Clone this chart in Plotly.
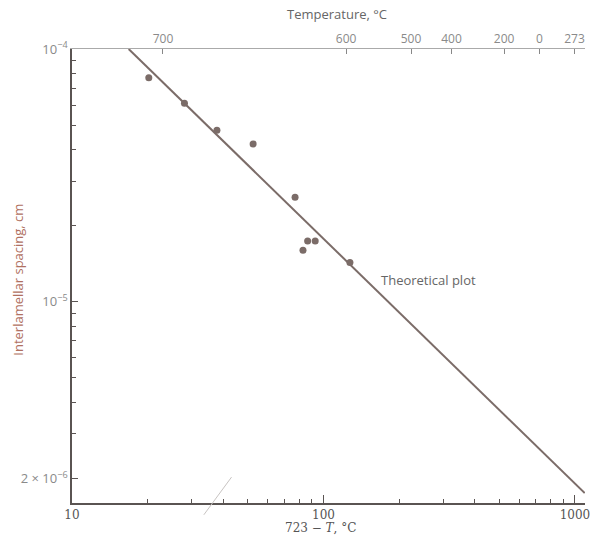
import plotly.graph_objects as go

# Undercooling (723 - T, °C) and measured interlamellar spacing (cm)
undercooling = [20.2, 28.0, 37.7, 52.5, 77.1, 86.5, 92.7, 82.9, 127.4]
spacing_cm = [7.7e-5, 6.1e-5, 4.77e-5, 4.21e-5, 2.59e-5, 1.74e-5, 1.74e-5, 1.60e-5, 1.43e-5]

# Theoretical relation, drawn between its two end points
theory_x = [16.8, 1094]
theory_y = [1.0e-4, 1.75e-6]

# Bottom axis ticks
bottom_tickvals = [10, 100, 1000]
bottom_ticktext = ["10", "100", "1000"]

# Left axis ticks
left_tickvals = [1e-4, 1e-5, 2e-6]
left_ticktext = ["10<sup>−4</sup>", "10<sup>−5</sup>", "2 × 10<sup>−6</sup>"]

# Temperature scale on the top axis (°C)
temps_c = [700, 600, 500, 400, 200, 0, -273]
temp_labels = ["700", "600", "500", "400", "200", "0", "273"]
eutectoid_c = 723

X_RANGE = [1.0, 3.04]
Y_RANGE = [-5.796, -4.0]

INK = "#7b6c68"
AXIS = "#5a5452"
SERIF = "DejaVu Serif, Liberation Serif, serif"
SANS = "Open Sans, DejaVu Sans, sans-serif"

fig = go.Figure()

fig.add_trace(go.Scatter(
    x=theory_x, y=theory_y, mode="lines",
    line=dict(color=INK, width=2), hoverinfo="skip", showlegend=False,
))
fig.add_trace(go.Scatter(
    x=undercooling, y=spacing_cm, mode="markers",
    marker=dict(color=INK, size=7), showlegend=False,
))
# invisible trace to activate the temperature axis
fig.add_trace(go.Scatter(
    x=[eutectoid_c - t for t in temps_c], y=[None] * len(temps_c),
    xaxis="x2", mode="markers", showlegend=False, hoverinfo="skip",
))

fig.update_layout(
    width=598, height=538,
    margin=dict(l=72, r=8, t=49, b=35),
    paper_bgcolor="white", plot_bgcolor="white",
    xaxis=dict(
        type="log", range=X_RANGE,
        tickvals=bottom_tickvals, ticktext=bottom_ticktext,
        ticks="inside", ticklen=8, tickwidth=1, tickcolor=AXIS,
        minor=dict(ticks="inside", ticklen=4, tickcolor=AXIS, dtick="D1", showgrid=False),
        showline=True, linecolor=AXIS, linewidth=1.5,
        showgrid=False, zeroline=False,
        tickfont=dict(family=SERIF, size=12, color="#555"),
        ticklabelstandoff=0,
    ),
    xaxis2=dict(
        type="log", range=X_RANGE, overlaying="x", side="top",
        tickvals=[eutectoid_c - t for t in temps_c], ticktext=temp_labels,
        ticks="inside", ticklen=5, tickcolor="#888",
        showline=True, linecolor="#aaaaaa", linewidth=1,
        showgrid=False, zeroline=False,
        tickfont=dict(family=SANS, size=12, color="#8a8a8a"),
    ),
    yaxis=dict(
        type="log", range=Y_RANGE,
        tickvals=left_tickvals, ticktext=left_ticktext,
        ticks="inside", ticklen=6, tickcolor=AXIS,
        minor=dict(ticks="inside", ticklen=4, tickcolor=AXIS, dtick="D1", showgrid=False),
        showline=True, linecolor=AXIS, linewidth=1.5,
        showgrid=False, zeroline=False,
        tickfont=dict(family=SANS, size=13, color="#8a8a8a"),
    ),
    annotations=[
        dict(text="Theoretical plot", x=2.22, y=-4.914, xref="x", yref="y",
             xanchor="left", yanchor="middle", showarrow=False,
             font=dict(family=SANS, size=13, color="#666")),
        dict(text="Temperature, °C", x=0.517, y=1.077, xref="paper", yref="paper",
             xanchor="center", yanchor="middle", showarrow=False,
             font=dict(family=SANS, size=13, color="#666")),
        dict(text="723 − <i>T</i>, °C", x=0.485, y=-0.056, xref="paper", yref="paper",
             xanchor="center", yanchor="middle", showarrow=False,
             font=dict(family=SERIF, size=12, color="#555")),
        dict(text="Interlamellar spacing, cm", x=-0.106, y=0.491, xref="paper", yref="paper",
             xanchor="center", yanchor="middle", textangle=-90, showarrow=False,
             font=dict(family=SANS, size=13, color="#b0705f")),
    ],
    shapes=[
        dict(type="line", xref="paper", yref="paper",
             x0=0.311, y0=0.057, x1=0.257, y1=-0.026,
             line=dict(color="#c8c4c2", width=1)),
    ],
)

fig.write_html("out.html")
